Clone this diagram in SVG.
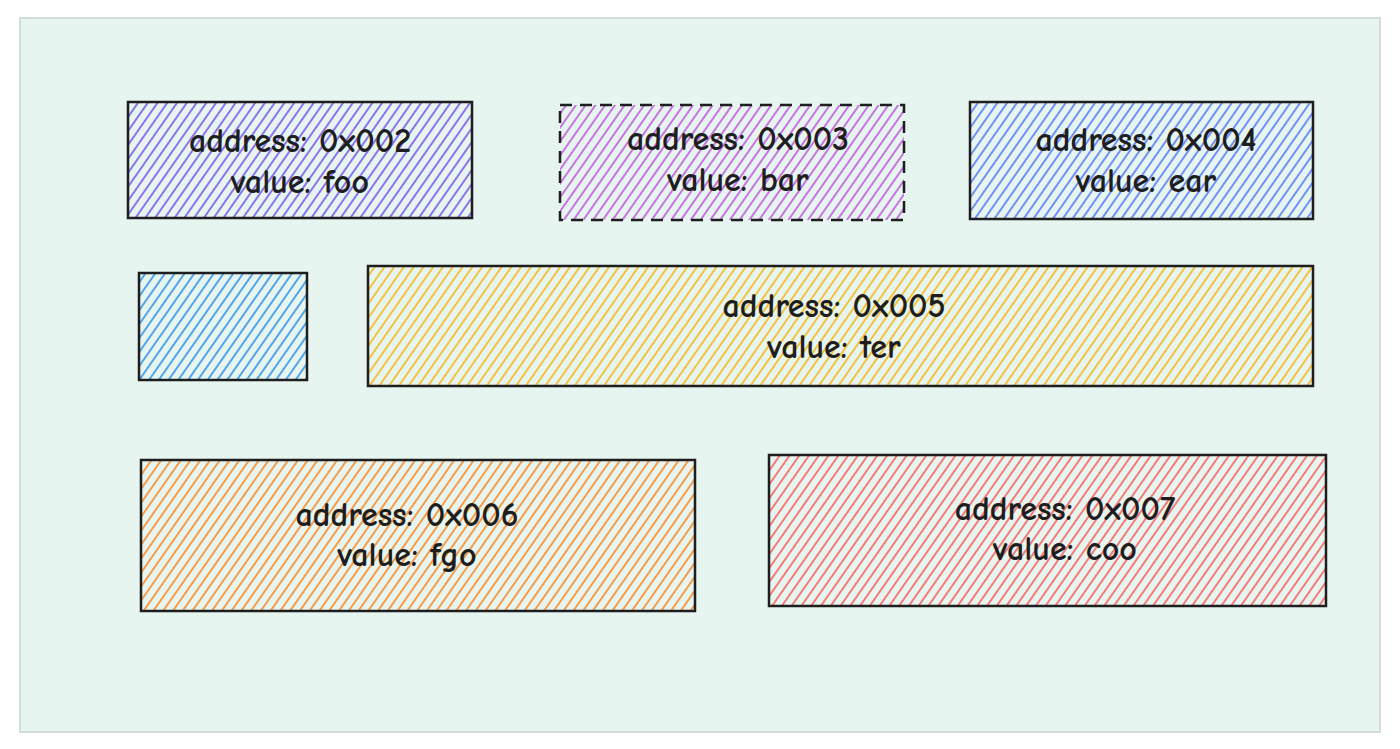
<svg xmlns="http://www.w3.org/2000/svg" width="1400" height="749" viewBox="0 0 1400 749">
<style>
.box{stroke:#1e1e1e;stroke-width:2.5}
.t{font-family:"Comic Neue","Liberation Sans",sans-serif;font-size:34px;font-weight:bold;fill:#1e1e1e;text-anchor:middle}
</style>
<defs>
<pattern id="pPurple" patternUnits="userSpaceOnUse" width="8" height="10" patternTransform="rotate(35)"><line x1="4" y1="0" x2="4" y2="10" stroke="#7048e8" stroke-width="1.5"/></pattern>
<pattern id="pViolet" patternUnits="userSpaceOnUse" width="8" height="10" patternTransform="rotate(35)"><line x1="4" y1="0" x2="4" y2="10" stroke="#be4bdb" stroke-width="1.5"/></pattern>
<pattern id="pIndigo" patternUnits="userSpaceOnUse" width="8" height="10" patternTransform="rotate(35)"><line x1="4" y1="0" x2="4" y2="10" stroke="#4c6ef5" stroke-width="1.5"/></pattern>
<pattern id="pBlue" patternUnits="userSpaceOnUse" width="8" height="10" patternTransform="rotate(35)"><line x1="4" y1="0" x2="4" y2="10" stroke="#228be6" stroke-width="1.5"/></pattern>
<pattern id="pYellow" patternUnits="userSpaceOnUse" width="8" height="10" patternTransform="rotate(35)"><line x1="4" y1="0" x2="4" y2="10" stroke="#fab005" stroke-width="1.5"/></pattern>
<pattern id="pOrange" patternUnits="userSpaceOnUse" width="8" height="10" patternTransform="rotate(35)"><line x1="4" y1="0" x2="4" y2="10" stroke="#fd7e14" stroke-width="1.5"/></pattern>
<pattern id="pRed" patternUnits="userSpaceOnUse" width="8" height="10" patternTransform="rotate(35)"><line x1="4" y1="0" x2="4" y2="10" stroke="#fa5252" stroke-width="1.5"/></pattern>
</defs>
<rect width="1400" height="749" fill="#ffffff"/>
<rect x="20" y="18" width="1360" height="714" fill="#e6f5f0" stroke="#d4dcd9" stroke-width="2"/>
<g id="n002"><rect class="box" x="128" y="102" width="344" height="116" fill="url(#pPurple)"/><text class="t" x="300" y="152">address: 0x002</text><text class="t" x="300" y="193">value: foo</text></g>
<g id="n003"><rect class="box" x="560" y="105" width="344" height="115" fill="url(#pViolet)" stroke-dasharray="12 8"/><text class="t" x="738" y="150">address: 0x003</text><text class="t" x="738" y="191">value: bar</text></g>
<g id="n004"><rect class="box" x="970" y="102" width="343" height="117" fill="url(#pIndigo)"/><text class="t" x="1146" y="151">address: 0x004</text><text class="t" x="1146" y="192">value: ear</text></g>
<g id="nblue"><rect class="box" x="139" y="273" width="168" height="107" fill="url(#pBlue)"/></g>
<g id="n005"><rect class="box" x="368" y="266" width="945" height="120" fill="url(#pYellow)"/><text class="t" x="834" y="317">address: 0x005</text><text class="t" x="834" y="358">value: ter</text></g>
<g id="n006"><rect class="box" x="141" y="460" width="554" height="151" fill="url(#pOrange)"/><text class="t" x="407" y="526">address: 0x006</text><text class="t" x="407" y="566">value: fgo</text></g>
<g id="n007"><rect class="box" x="769" y="455" width="557" height="151" fill="url(#pRed)"/><text class="t" x="1065" y="520">address: 0x007</text><text class="t" x="1065" y="560">value: coo</text></g>
<g id="connectors"/>
</svg>
